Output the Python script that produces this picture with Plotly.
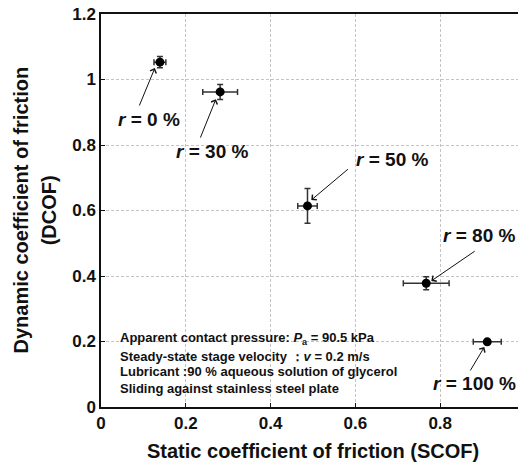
import plotly.graph_objects as go

# ---- data ----
labels = ["0", "30", "50", "80", "100"]
scof = [0.139, 0.281, 0.487, 0.767, 0.911]
scof_err = [0.014, 0.041, 0.023, 0.054, 0.033]
dcof = [1.053, 0.962, 0.614, 0.378, 0.199]
dcof_err = [0.017, 0.023, 0.053, 0.020, 0.005]

# arrow heads / tails and label positions (data coordinates)
arrow_head_x = [0.127, 0.271, 0.496, 0.779, 0.904]
arrow_head_y = [1.035, 0.940, 0.632, 0.385, 0.183]
arrow_tail_x = [0.089, 0.233, 0.586, 0.885, 0.869]
arrow_tail_y = [0.916, 0.818, 0.730, 0.479, 0.107]
label_x = [0.113, 0.261, 0.687, 0.891, 0.880]
label_y = [0.879, 0.779, 0.757, 0.525, 0.073]

x_ticks = [0, 0.2, 0.4, 0.6, 0.8, 1]
x_ticktext = ["0", "0.2", "0.4", "0.6", "0.8", "1"]
y_ticks = [0, 0.2, 0.4, 0.6, 0.8, 1, 1.2]
y_ticktext = ["0", "0.2", "0.4", "0.6", "0.8", "1", "1.2"]

notes = [
    "Apparent contact pressure: <i>P</i><sub>a</sub> = 90.5 kPa",
    "Steady-state stage velocity \uff1a<i>v</i> = 0.2 m/s",
    "Lubricant :90 % aqueous solution of glycerol",
    "Sliding against stainless steel plate",
]
notes_y = [0.208, 0.155, 0.108, 0.058]

FONT = "Liberation Sans, Arial, sans-serif"

fig = go.Figure()
fig.add_trace(go.Scatter(
    x=scof, y=dcof, mode="markers",
    marker=dict(color="black", size=9),
    error_x=dict(type="data", array=scof_err, color="#333333", thickness=1.5, width=3),
    error_y=dict(type="data", array=dcof_err, color="#333333", thickness=1.5, width=3),
    showlegend=False, hoverinfo="skip",
))

annotations = []
for hx, hy, tx, ty in zip(arrow_head_x, arrow_head_y, arrow_tail_x, arrow_tail_y):
    annotations.append(dict(
        x=hx, y=hy, ax=tx, ay=ty, xref="x", yref="y", axref="x", ayref="y",
        text="", showarrow=True, arrowhead=4, arrowsize=1.3, arrowwidth=1,
        arrowcolor="#111111",
    ))
for lab, lx, ly in zip(labels, label_x, label_y):
    annotations.append(dict(
        x=lx, y=ly, xref="x", yref="y", showarrow=False,
        text="<b><i>r</i> = %s %%</b>" % lab,
        font=dict(family=FONT, size=19, color="#111111"),
        xanchor="center", yanchor="middle",
    ))
for t, ny in zip(notes, notes_y):
    annotations.append(dict(
        x=0.04, y=ny, xref="x", yref="y", showarrow=False,
        text="<b>%s</b>" % t,
        font=dict(family=FONT, size=13, color="#111111"),
        xanchor="left", yanchor="middle",
    ))
# axis titles
annotations.append(dict(
    x=0.5, y=-0.112, xref="paper", yref="paper", showarrow=False,
    text="<b>Static coefficient of friction (SCOF)</b>",
    font=dict(family=FONT, size=20, color="#111111"),
    xanchor="center", yanchor="middle",
))
annotations.append(dict(
    x=-0.191, y=0.5, xref="paper", yref="paper", showarrow=False,
    text="<b>Dynamic coefficient of friction</b>", textangle=-90,
    font=dict(family=FONT, size=20, color="#111111"),
    xanchor="center", yanchor="middle",
))
annotations.append(dict(
    x=-0.123, y=0.5, xref="paper", yref="paper", showarrow=False,
    text="<b>(DCOF)</b>", textangle=-90,
    font=dict(family=FONT, size=20, color="#111111"),
    xanchor="center", yanchor="middle",
))

axis_common = dict(
    showline=True, linecolor="#111111", linewidth=1.5, mirror=True,
    ticks="inside", ticklen=4, tickwidth=1, tickcolor="#111111",
    showgrid=True, gridcolor="#c4c4c4", gridwidth=1, griddash="3px,2px",
    zeroline=False, automargin=False, ticklabeloverflow="allow",
    tickfont=dict(family=FONT, size=17, color="#111111", weight="bold"),
)

# page body has an 8px default margin; figure is sized so it fills the window
fig.update_layout(
    template="none",
    width=518, height=456,
    margin=dict(l=93, r=1, t=6, b=57),
    paper_bgcolor="white", plot_bgcolor="white",
    xaxis=dict(range=[0, 1], tickvals=x_ticks, ticktext=x_ticktext, **axis_common),
    yaxis=dict(range=[0, 1.2], tickvals=y_ticks, ticktext=y_ticktext, **axis_common),
    annotations=annotations,
    showlegend=False,
)

fig.write_html("out.html")
